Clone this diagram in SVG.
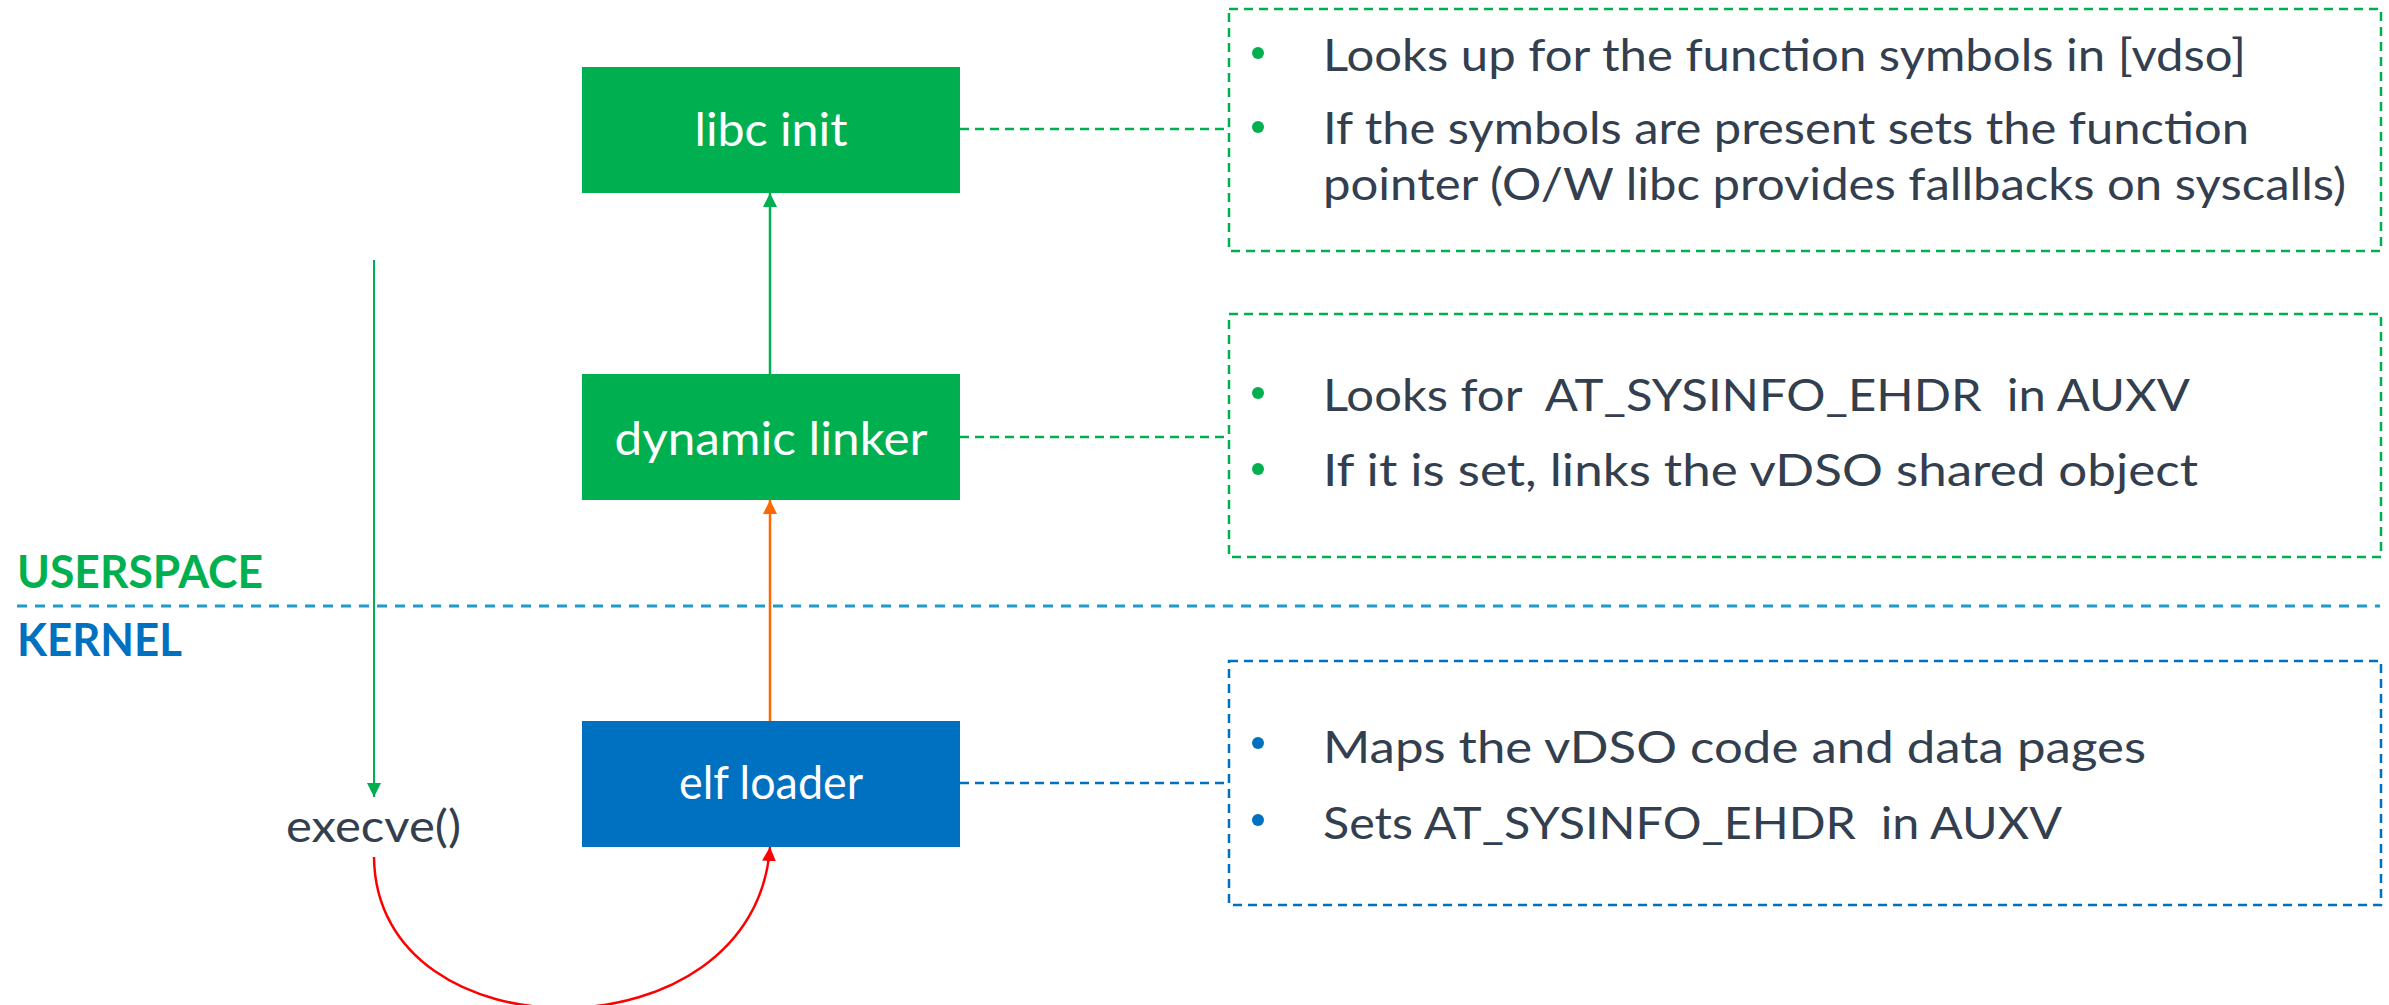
<svg xmlns="http://www.w3.org/2000/svg" width="2389" height="1005" viewBox="0 0 2389 1005">
<style>
.t{font-family:Lato,"Open Sans","Liberation Sans",sans-serif;font-size:44px;fill:#333F4F}
.bt{font-family:Lato,"Open Sans","Liberation Sans",sans-serif;font-size:46px;fill:#FFFFFF;text-anchor:middle}
.lab{font-family:Lato,"Open Sans","Liberation Sans",sans-serif;font-size:45px;font-weight:bold}
.gd{fill:none;stroke:#00B050;stroke-width:2.5;stroke-dasharray:9 6}
.bd{fill:none;stroke:#0070C0;stroke-width:2.5;stroke-dasharray:9 6}
</style>
<defs>
<marker id="ag" viewBox="0 0 14 14" refX="14" refY="7" markerWidth="14" markerHeight="14" markerUnits="userSpaceOnUse" orient="auto"><path d="M0,0 L14,7 L0,14 z" fill="#00B050"/></marker>
<marker id="ao" viewBox="0 0 14 14" refX="14" refY="7" markerWidth="14" markerHeight="14" markerUnits="userSpaceOnUse" orient="auto"><path d="M0,0 L14,7 L0,14 z" fill="#FF6600"/></marker>
<marker id="ar" viewBox="0 0 14 14" refX="14" refY="7" markerWidth="14" markerHeight="14" markerUnits="userSpaceOnUse" orient="auto"><path d="M0,0 L14,7 L0,14 z" fill="#FF0000"/></marker>
</defs>
<rect width="2389" height="1005" fill="#FFFFFF"/>

<g id="divider">
<line x1="17" y1="606" x2="2380" y2="606" stroke="#1F9BCB" stroke-width="3" stroke-dasharray="10 8"/>
<text class="lab" x="17" y="588" fill="#00B050" textLength="246" lengthAdjust="spacingAndGlyphs">USERSPACE</text>
<text class="lab" x="17" y="656" fill="#0070C0" textLength="165" lengthAdjust="spacingAndGlyphs">KERNEL</text>
</g>

<g id="connectors">
<line x1="770" y1="374" x2="770" y2="193" stroke="#00B050" stroke-width="2.5" marker-end="url(#ag)"/>
<line x1="770" y1="721" x2="770" y2="500" stroke="#FF6600" stroke-width="2.5" marker-end="url(#ao)"/>
<line x1="374" y1="260" x2="374" y2="797" stroke="#00B050" stroke-width="2" marker-end="url(#ag)"/>
<path d="M374,857 C376,1060 755,1060 770,847" fill="none" stroke="#FF0000" stroke-width="2.5" marker-end="url(#ar)"/>
<line x1="960" y1="129" x2="1229" y2="129" class="gd"/>
<line x1="960" y1="437" x2="1229" y2="437" class="gd"/>
<line x1="960" y1="783" x2="1229" y2="783" class="bd"/>
</g>

<g id="libc-init">
<rect x="582" y="67" width="378" height="126" fill="#00B050"/>
<text class="bt" x="771" y="146" textLength="153" lengthAdjust="spacingAndGlyphs">libc init</text>
</g>

<g id="dynamic-linker">
<rect x="582" y="374" width="378" height="126" fill="#00B050"/>
<text class="bt" x="771" y="455" textLength="313" lengthAdjust="spacingAndGlyphs">dynamic linker</text>
</g>

<g id="elf-loader">
<rect x="582" y="721" width="378" height="126" fill="#0070C0"/>
<text class="bt" x="771" y="799" textLength="184" lengthAdjust="spacingAndGlyphs">elf loader</text>
</g>

<g id="execve">
<text class="t" x="286" y="842" font-size="46" textLength="175" lengthAdjust="spacingAndGlyphs">execve()</text>
</g>

<g id="note-libc">
<rect x="1229" y="9" width="1152" height="242" class="gd"/>
<circle cx="1258" cy="53" r="6" fill="#00B050"/>
<circle cx="1258" cy="127" r="6" fill="#00B050"/>
<text class="t" x="1323" y="71" textLength="923" lengthAdjust="spacingAndGlyphs">Looks up for the function symbols in [vdso]</text>
<text class="t" x="1323" y="144" textLength="926" lengthAdjust="spacingAndGlyphs">If the symbols are present sets the function</text>
<text class="t" x="1323" y="200" textLength="1023" lengthAdjust="spacingAndGlyphs">pointer (O/W libc provides fallbacks on syscalls)</text>
</g>

<g id="note-linker">
<rect x="1229" y="314" width="1152" height="243" class="gd"/>
<circle cx="1258" cy="393" r="6" fill="#00B050"/>
<circle cx="1258" cy="469" r="6" fill="#00B050"/>
<text class="t" x="1323" y="411" textLength="867" lengthAdjust="spacingAndGlyphs" xml:space="preserve">Looks for  AT_SYSINFO_EHDR  in AUXV</text>
<text class="t" x="1323" y="486" textLength="875" lengthAdjust="spacingAndGlyphs">If it is set, links the vDSO shared object</text>
</g>

<g id="note-loader">
<rect x="1229" y="661" width="1152" height="244" class="bd"/>
<circle cx="1258" cy="743" r="6" fill="#0070C0"/>
<circle cx="1258" cy="820" r="6" fill="#0070C0"/>
<text class="t" x="1323" y="763" textLength="823" lengthAdjust="spacingAndGlyphs">Maps the vDSO code and data pages</text>
<text class="t" x="1323" y="839" textLength="739" lengthAdjust="spacingAndGlyphs" xml:space="preserve">Sets AT_SYSINFO_EHDR  in AUXV</text>
</g>
</svg>
